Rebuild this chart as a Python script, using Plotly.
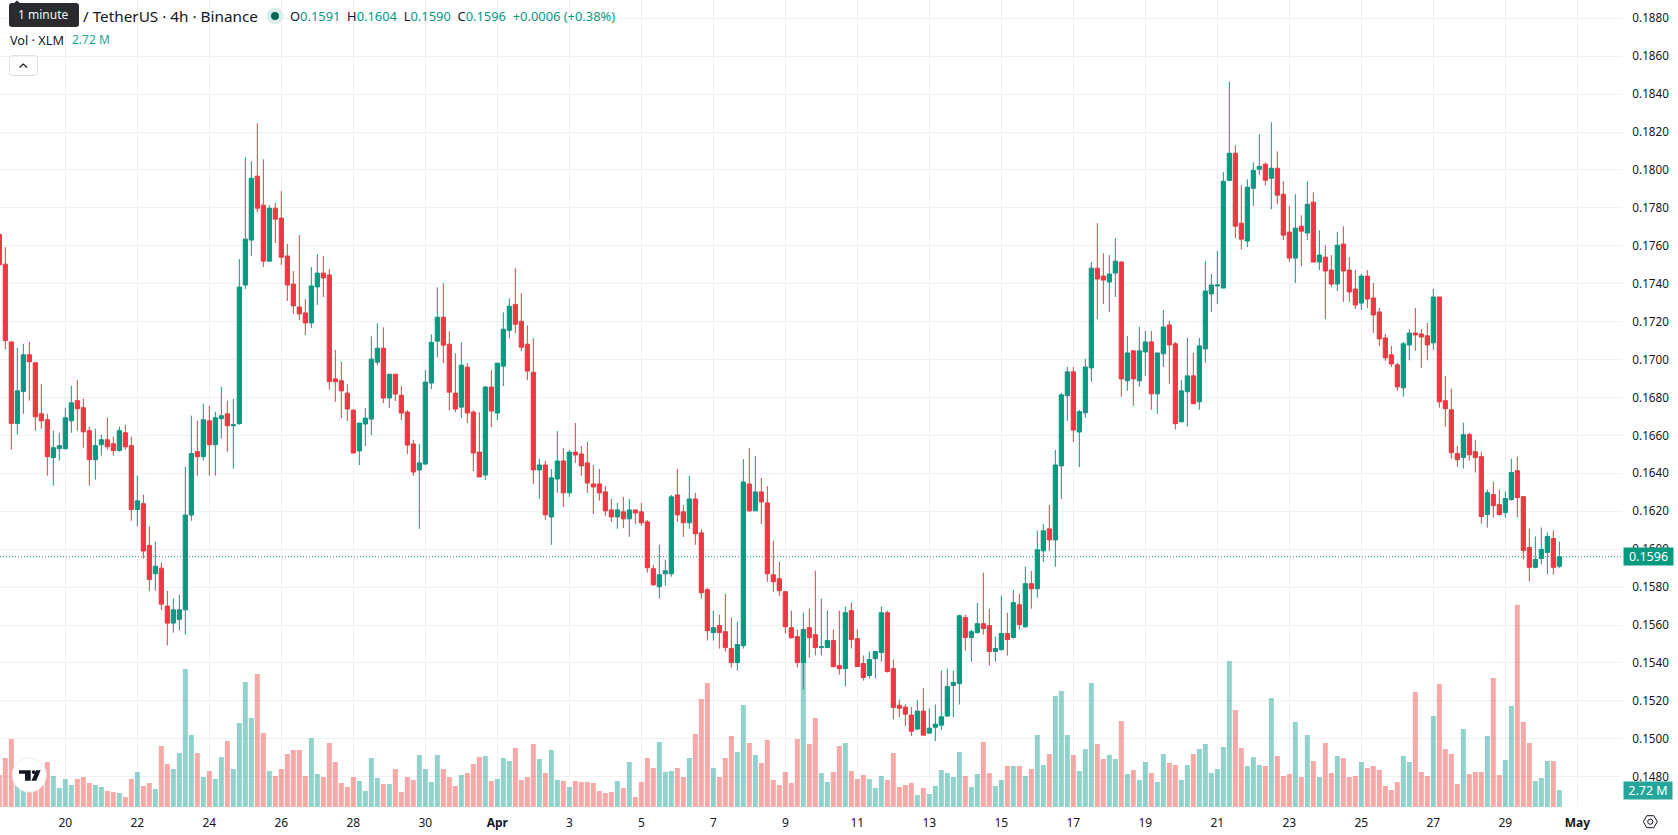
import pandas as pd
import plotly.graph_objects as go

# XLM / USDT, 4h candles, 18 Mar 04:00 to 30 Apr 12:00
first_candle = "2023-03-18 04:00"
candle_count = 261

opens = [
    .17660,.17503,.17093,.16663,.16832,.17025,.16983,.16714,.16683,.16483,
    .16530,.16530,.16677,.16783,.16746,.16625,.16472,.16551,.16577,.16556,
    .16520,.16614,.16546,.16209,.16240,.16020,.15870,.15900,.15700,.15610,
    .15630,.15680,.16180,.16514,.16488,.16677,.16551,.16688,.16714,.16651,
    .16662,.17393,.17630,.17967,.17814,.17519,.17798,.17746,.17546,.17398,
    .17277,.17246,.17193,.17383,.17456,.17446,.16898,.16888,.16823,.16733,
    .16518,.16660,.16686,.16986,.17060,.16797,.16923,.16812,.16723,.16555,
    .16418,.16449,.16876,.17097,.17223,.17081,.16823,.16749,.16960,.16723,
    .16512,.16391,.16855,.16718,.16965,.17154,.17291,.17202,.17081,.16933,
    .16418,.16444,.16170,.16370,.16465,.16297,.16512,.16502,.16455,.16344,
    .16344,.16302,.16207,.16170,.16197,.16160,.16207,.16197,.16144,.15897,
    .15802,.15870,.15870,.16286,.16197,.16139,.16265,.16086,.15786,.15560,
    .15597,.15565,.15476,.15402,.15491,.16344,.16202,.16302,.16244,.15865,
    .15844,.15776,.15586,.15539,.15402,.15586,.15549,.15481,.15481,.15518,
    .15386,.15370,.15676,.15528,.15397,.15333,.15423,.15455,.15665,.15370,
    .15177,.15167,.15125,.15051,.15146,.15030,.15061,.15072,.15120,.15281,
    .15291,.15639,.15534,.15560,.15607,.15597,.15460,.15470,.15555,.15534,
    .15707,.15591,.15818,.15791,.15991,.16107,.16049,.16439,.16809,.16935,
    .16618,.16719,.16956,.17482,.17440,.17409,.17456,.17514,.16888,.17046,
    .16888,.17040,.17093,.16819,.17030,.17182,.17083,.16672,.16830,.16914,
    .16777,.17056,.17346,.17388,.17377,.17945,.18088,.17719,.17625,.17903,
    .18003,.18030,.17956,.18009,.17872,.17672,.17535,.17703,.17667,.17830,
    .17514,.17540,.17472,.17398,.17609,.17472,.17372,.17298,.17440,.17325,
    .17251,.17114,.17025,.16972,.16851,.17077,.17140,.17135,.17125,.17088,
    .17330,.16783,.16735,.16504,.16483,.16604,.16514,.16488,.16183,.16288,
    .16235,.16193,.16262,.16414,.16277,.16009,.15904,.15951,.15983,.16056,
    .1591,
]
highs = [
    .17660,.17593,.17093,.17061,.17083,.17093,.16983,.16872,.16714,.16625,
    .16614,.16746,.16862,.16893,.16793,.16646,.16635,.16604,.16693,.16593,
    .16646,.16656,.16593,.16388,.16288,.16120,.16040,.15930,.15780,.15740,
    .15760,.16435,.16704,.16677,.16767,.16756,.16725,.16856,.16783,.16793,
    .17530,.18067,.18046,.18246,.18056,.17814,.17825,.17888,.17609,.17467,
    .17656,.17319,.17488,.17556,.17546,.17477,.17051,.16988,.16870,.16740,
    .16665,.16744,.17123,.17191,.17170,.16923,.16923,.16860,.16733,.16576,
    .16555,.16944,.17133,.17381,.17402,.17149,.17033,.17091,.16981,.16733,
    .16723,.16860,.16944,.16981,.17249,.17323,.17481,.17349,.17181,.17112,
    .16476,.16465,.16423,.16623,.16533,.16523,.16665,.16544,.16565,.16444,
    .16423,.16333,.16265,.16244,.16276,.16265,.16207,.16244,.16154,.15918,
    .16023,.15944,.16286,.16423,.16233,.16386,.16297,.16107,.15797,.15676,
    .15655,.15765,.15639,.15618,.16475,.16533,.16491,.16375,.16333,.16044,
    .15933,.15776,.15676,.15576,.15665,.15686,.15886,.15739,.15676,.15576,
    .15676,.15697,.15718,.15576,.15439,.15460,.15460,.15697,.15676,.15418,
    .15207,.15182,.15167,.15204,.15267,.15160,.15181,.15360,.15370,.15360,
    .15655,.15655,.15576,.15718,.15876,.15686,.15539,.15755,.15665,.15786,
    .15765,.15907,.15886,.16097,.16133,.16233,.16523,.16825,.16961,.16961,
    .16735,.17004,.17514,.17719,.17561,.17551,.17640,.17519,.17125,.17051,
    .17172,.17151,.17151,.17035,.17261,.17204,.17093,.16893,.17114,.17035,
    .17114,.17519,.17451,.17572,.17988,.18466,.18130,.17919,.17951,.18040,
    .18188,.18040,.18251,.18098,.17940,.17809,.17872,.17761,.17940,.17882,
    .17682,.17603,.17551,.17672,.17703,.17540,.17472,.17451,.17472,.17404,
    .17272,.17135,.17072,.16983,.17093,.17161,.17272,.17161,.17193,.17372,
    .17330,.16914,.16846,.16546,.16667,.16614,.16577,.16514,.16314,.16356,
    .16314,.16304,.16477,.16488,.16277,.16109,.16067,.16114,.16088,.16099,
    .1604,
]
lows = [
    .17500,.17053,.16526,.16604,.16714,.16783,.16625,.16635,.16388,.16335,
    .16467,.16525,.16614,.16625,.16535,.16335,.16367,.16493,.16525,.16493,
    .16514,.16525,.16150,.16120,.15950,.15780,.15780,.15680,.15492,.15560,
    .15570,.15550,.16150,.16388,.16467,.16388,.16388,.16583,.16514,.16425,
    .16656,.17372,.17546,.17777,.17488,.17519,.17614,.17498,.17309,.17241,
    .17209,.17130,.17167,.17288,.17330,.16841,.16777,.16691,.16676,.16507,
    .16444,.16544,.16602,.16970,.16770,.16744,.16781,.16681,.16502,.16386,
    .16107,.16444,.16844,.17012,.16981,.16733,.16723,.16691,.16665,.16412,
    .16381,.16365,.16644,.16681,.16860,.17112,.17139,.17044,.16891,.16344,
    .16265,.16155,.16023,.16297,.16223,.16276,.16455,.16386,.16297,.16186,
    .16255,.16176,.16144,.16107,.16112,.16065,.16133,.16123,.15876,.15807,
    .15739,.15807,.15855,.16144,.16065,.16107,.16023,.15739,.15518,.15518,
    .15476,.15460,.15376,.15360,.15476,.16197,.16202,.16133,.15828,.15776,
    .15754,.15555,.15528,.15376,.15260,.15428,.15439,.15439,.15481,.15376,
    .15339,.15276,.15476,.15381,.15307,.15318,.15318,.15407,.15349,.15102,
    .15114,.15067,.15014,.15046,.15019,.15025,.14988,.15046,.15114,.15114,
    .15181,.15465,.15407,.15555,.15549,.15386,.15407,.15465,.15439,.15528,
    .15576,.15586,.15686,.15744,.15933,.15991,.15907,.16265,.16677,.16565,
    .16433,.16693,.16883,.17214,.17293,.17251,.17330,.16804,.16835,.16756,
    .16856,.16914,.16735,.16714,.16961,.16872,.16630,.16667,.16646,.16767,
    .16735,.16983,.17251,.17293,.17377,.17940,.17640,.17582,.17593,.17809,
    .17972,.17919,.17793,.17819,.17630,.17514,.17404,.17493,.17630,.17514,
    .17472,.17214,.17382,.17361,.17304,.17304,.17267,.17261,.17272,.17140,
    .17072,.16993,.16961,.16835,.16804,.16996,.17046,.16956,.16996,.17051,
    .16746,.16646,.16477,.16435,.16425,.16467,.16404,.16135,.16114,.16167,
    .16177,.16167,.16256,.16167,.15946,.15830,.15899,.15920,.15867,.15867,
    .1590,
]
closes = [
    .17500,.17100,.16663,.16835,.17025,.16988,.16698,.16677,.16488,.16535,
    .16546,.16693,.16772,.16741,.16619,.16472,.16546,.16577,.16540,.16520,
    .16625,.16540,.16209,.16255,.15990,.15840,.15910,.15710,.15610,.15680,
    .15680,.16180,.16504,.16488,.16683,.16551,.16693,.16704,.16651,.16656,
    .17382,.17635,.17956,.17798,.17519,.17798,.17740,.17540,.17393,.17283,
    .17241,.17193,.17388,.17456,.17430,.16883,.16883,.16835,.16739,.16507,
    .16665,.16691,.17002,.17060,.16797,.16923,.16818,.16718,.16549,.16407,
    .16455,.16881,.17091,.17223,.17076,.16828,.16739,.16970,.16718,.16507,
    .16381,.16855,.16728,.16981,.17160,.17281,.17186,.17065,.16939,.16418,
    .16444,.16181,.16376,.16465,.16297,.16512,.16497,.16439,.16349,.16328,
    .16297,.16202,.16170,.16207,.16160,.16207,.16191,.16139,.15902,.15812,
    .15865,.15886,.16276,.16181,.16139,.16265,.16081,.15770,.15570,.15586,
    .15560,.15481,.15402,.15497,.16354,.16202,.16302,.16249,.15870,.15828,
    .15781,.15591,.15533,.15402,.15576,.15533,.15481,.15486,.15518,.15381,
    .15370,.15665,.15523,.15381,.15323,.15418,.15460,.15665,.15355,.15165,
    .15161,.15130,.15040,.15146,.15019,.15056,.15077,.15116,.15276,.15297,
    .15649,.15534,.15565,.15607,.15581,.15460,.15476,.15555,.15523,.15718,
    .15602,.15818,.15791,.15997,.16097,.16049,.16444,.16814,.16935,.16628,
    .16725,.16961,.17482,.17425,.17419,.17451,.17519,.16898,.17035,.16898,
    .17046,.17093,.16819,.17035,.17172,.17077,.16662,.16835,.16914,.16767,
    .17072,.17361,.17393,.17393,.17940,.18088,.17703,.17635,.17909,.17998,
    .18019,.17946,.18009,.17867,.17656,.17535,.17693,.17677,.17819,.17514,
    .17551,.17467,.17398,.17603,.17467,.17356,.17288,.17440,.17319,.17235,
    .17109,.17009,.16977,.16856,.17083,.17140,.17130,.17119,.17077,.17330,
    .16777,.16741,.16509,.16472,.16604,.16498,.16483,.16172,.16298,.16230,
    .16183,.16267,.16404,.16272,.15993,.15904,.15946,.15999,.16067,.15904,
    .1596,
]
# Volume in millions of XLM
volumes = [
    5.12,7.84,10.88,3.52,2.72,2.40,3.20,5.12,7.20,4.96,
    3.04,4.48,3.52,4.48,4.80,3.84,3.52,3.20,2.56,2.40,
    2.24,1.60,4.48,5.60,3.36,3.84,2.88,9.76,6.88,6.08,
    8.64,22.08,11.52,8.64,4.80,5.76,4.48,8.00,10.56,6.08,
    13.44,20.00,14.24,21.28,11.84,5.76,4.96,6.08,8.48,9.12,
    9.12,4.96,11.04,5.28,4.80,10.24,7.20,3.84,3.20,4.80,
    4.16,2.56,7.84,4.64,3.68,3.68,6.08,2.40,4.80,4.32,
    8.32,6.08,4.00,8.32,6.08,4.80,3.36,5.12,5.44,6.88,
    8.00,8.16,4.16,4.48,7.84,7.36,9.44,4.32,4.80,10.08,
    7.68,5.44,9.12,4.32,4.16,3.20,4.16,4.00,4.00,3.84,
    2.56,2.24,2.40,4.16,3.04,7.20,1.60,4.00,7.84,6.24,
    10.40,5.60,5.76,6.24,4.80,7.84,11.68,17.28,19.84,6.24,
    4.80,7.84,11.36,8.80,16.32,10.24,8.32,7.04,10.72,4.32,
    3.52,5.60,3.84,10.88,24.32,10.08,14.24,5.44,4.00,5.60,
    9.76,10.24,5.76,4.48,5.12,4.48,3.04,4.96,4.32,8.64,
    3.20,3.52,3.84,1.92,3.04,2.08,3.36,5.92,5.44,4.80,
    8.80,4.96,3.20,5.28,10.40,5.44,3.36,4.32,6.56,6.56,
    6.56,4.96,6.08,11.52,6.72,8.48,17.76,18.56,11.52,8.32,
    5.76,9.28,19.84,10.08,7.68,8.32,7.68,13.76,5.28,5.92,
    4.32,7.20,5.44,4.00,8.48,7.04,6.72,4.32,6.72,8.48,
    9.28,10.08,5.44,6.08,9.60,23.36,15.52,9.44,6.56,8.00,
    6.72,6.56,17.44,8.16,4.96,5.28,13.60,4.80,11.52,7.36,
    4.80,10.24,5.44,8.16,7.84,4.80,4.96,7.20,6.24,6.56,
    5.92,3.36,2.72,4.00,8.16,7.20,18.40,5.60,4.96,14.56,
    19.68,9.28,8.48,3.68,12.48,5.28,5.60,5.60,11.36,20.64,
    5.12,7.52,16.16,32.37,13.60,10.24,4.16,4.64,7.36,7.36,
    2.72,
]
assert all(len(a) == candle_count for a in (opens, highs, lows, closes, volumes))

tick_dates = ["03-20","03-22","03-24","03-26","03-28","03-30","04-01","04-03","04-05","04-07","04-09",
              "04-11","04-13","04-15","04-17","04-19","04-21","04-23","04-25","04-27","04-29","05-01"]
tick_labels = ["20","22","24","26","28","30","<b>Apr</b>","3","5","7","9",
               "11","13","15","17","19","21","23","25","27","29","<b>May</b>"]
price_ticks = [0.148 + 0.002 * k for k in range(21)]
last_price = 0.1596
last_volume = 2.72

GREEN = "#089981"
RED = "#f23645"
GREEN_VOL = "rgba(38,166,154,0.5)"
RED_VOL = "rgba(239,83,80,0.5)"
INK = "#131722"
GRID = "#f0f1f4"
FONT = "Noto Sans"

W, H = 1678, 835
PLOT_R, PLOT_B = 1622, 807


def fx(x):
    return x / PLOT_R


def fy(y):
    return 1 - y / PLOT_B


def path_from(points, close=True):
    body = " L ".join(f"{fx(x):.5f},{fy(y):.5f}" for x, y in points)
    return "M " + body + (" Z" if close else "")


def rounded_rect(x0, y0, x1, y1, r):
    """Rounded rectangle in pixel terms, as an SVG path in paper fractions."""
    rx, ry = r / PLOT_R, r / PLOT_B
    a, b, c, d = fx(x0), fx(x1), fy(y0), fy(y1)
    return (f"M {a+rx:.5f},{c:.5f} L {b-rx:.5f},{c:.5f} Q {b:.5f},{c:.5f} {b:.5f},{c-ry:.5f} "
            f"L {b:.5f},{d+ry:.5f} Q {b:.5f},{d:.5f} {b-rx:.5f},{d:.5f} "
            f"L {a+rx:.5f},{d:.5f} Q {a:.5f},{d:.5f} {a:.5f},{d+ry:.5f} "
            f"L {a:.5f},{c-ry:.5f} Q {a:.5f},{c:.5f} {a+rx:.5f},{c:.5f} Z")


def circle(cx, cy, r, **kw):
    return dict(type="circle", xref="paper", yref="paper", x0=fx(cx - r), x1=fx(cx + r),
                y0=fy(cy + r), y1=fy(cy - r), **kw)


def polygon(points, fill, line=None, width=0, close=True):
    return dict(type="path", xref="paper", yref="paper", path=path_from(points, close),
                fillcolor=fill, line=dict(color=line or fill, width=width))


def label(x, y, text, size=13, color=INK, anchor="left", **kw):
    return dict(xref="paper", yref="paper", x=fx(x), y=fy(y), text=text, showarrow=False,
                xanchor=anchor, yanchor="middle", align="left",
                font=dict(family=FONT, size=size, color=color), **kw)


times = pd.date_range(first_candle, periods=candle_count, freq="4h")
ticks = [pd.Timestamp(f"2023-{d}") for d in tick_dates]
px_per_day = 36
anchor_day = ticks[0]
anchor_px = 65.33
x_range = [anchor_day - pd.Timedelta(days=anchor_px / px_per_day),
           anchor_day + pd.Timedelta(days=(PLOT_R - anchor_px) / px_per_day)]
# 18962 pixels per unit of price, with 0.1740 sitting 283.7 px from the top
price_range = [0.174 - (PLOT_B - 283.7) / 18962, 0.174 + 283.7 / 18962]
volume_range = [0, PLOT_B * 0.16]

bar_colors = [GREEN_VOL if c >= o else RED_VOL for o, c in zip(opens, closes)]

fig = go.Figure()
fig.add_trace(go.Bar(x=times, y=volumes, marker=dict(color=bar_colors, line=dict(width=0)),
                     yaxis="y", hoverinfo="skip", showlegend=False))
fig.add_trace(go.Candlestick(
    x=times, open=opens, high=highs, low=lows, close=closes, yaxis="y2",
    increasing=dict(line=dict(color=GREEN, width=1), fillcolor=GREEN),
    decreasing=dict(line=dict(color=RED, width=1), fillcolor=RED),
    whiskerwidth=0, showlegend=False, hoverinfo="skip",
))

shapes = [
    # last-price dotted guide
    dict(type="line", xref="paper", yref="y2", x0=0, x1=1, y0=last_price, y1=last_price,
         line=dict(color=GREEN, width=1, dash="1px,2px"), layer="below"),
    # status dot in the header
    circle(275, 16, 8.5, fillcolor="#d9eeea", line=dict(width=0)),
    circle(275, 16, 4, fillcolor="#056656", line=dict(width=0)),
    # interval tooltip
    dict(type="path", xref="paper", yref="paper", path=rounded_rect(9, 3, 79, 27, 3),
         fillcolor="#2a2b2e", line=dict(width=0)),
    polygon([(13, 4), (17, 0.5), (21, 4)], "#2a2b2e"),
    # collapse button
    dict(type="path", xref="paper", yref="paper", path=rounded_rect(9.5, 55.5, 37.5, 75.5, 3),
         fillcolor="rgba(255,255,255,0)", line=dict(color="#dcdfe6", width=1)),
    polygon([(19.5, 67.5), (23.3, 64), (27, 67.5)], "rgba(0,0,0,0)", line=INK, width=1.2, close=False),
    # badge in the lower-left corner
    circle(29.3, 775, 17, fillcolor="white", line=dict(color="#eceef2", width=1)),
    polygon([(19, 770.3), (30.7, 770.3), (30.7, 780.7), (25, 780.7), (25, 773.8), (19, 773.8)], "#131722"),
    polygon([(36, 770.3), (40.7, 770.3), (36.2, 780.7), (31.5, 780.7)], "#131722"),
    circle(33.6, 772.1, 1.9, fillcolor="#131722", line=dict(width=0)),
    # settings icon under the price scale
    polygon([(1643.3, 821.7), (1646.8, 815.7), (1653.8, 815.7), (1657.3, 821.7),
             (1653.8, 827.7), (1646.8, 827.7)], "rgba(0,0,0,0)", line=INK, width=1),
    circle(1650.3, 821.7, 2.6, fillcolor="rgba(0,0,0,0)", line=dict(color=INK, width=1)),
]


def tinted(v):
    return f"<span style='color:{GREEN}'>{v}</span>"


annotations = [
    label(13, 15, "1 minute", size=12, color="#f0f3fa", xshift=3),
    label(81, 16, "/ TetherUS · 4h · Binance", size=15.3),
    label(288, 16, "O" + tinted("0.1591") + "  H" + tinted("0.1604") + "  L" + tinted("0.1590")
          + "  C" + tinted("0.1596") + "  " + tinted("+0.0006 (+0.38%)"), size=12.9),
    label(8, 40, "Vol · XLM", size=12.7),
    label(70, 40, "2.72 M", size=12, color="#26a69a"),
    dict(xref="paper", yref="y2", x=1, y=last_price, text="0.1596", showarrow=False, xanchor="left",
         yanchor="middle", xshift=1, width=49, height=17, bgcolor=GREEN, borderpad=0,
         font=dict(family=FONT, size=12.5, color="white")),
    dict(xref="paper", yref="y", x=1, y=last_volume, text="2.72 M", showarrow=False, xanchor="left",
         yanchor="middle", xshift=1, width=48, height=17, bgcolor="#26a69a", borderpad=0,
         font=dict(family=FONT, size=12.5, color="white")),
]

fig.update_layout(
    width=W, height=H, autosize=False,
    margin=dict(l=0, r=W - PLOT_R, t=0, b=H - PLOT_B, pad=0),
    paper_bgcolor="white", plot_bgcolor="white",
    font=dict(family=FONT, size=12, color=INK),
    bargap=0.17, boxgap=0.3, boxgroupgap=0, showlegend=False, hovermode=False,
    shapes=shapes, annotations=annotations,
    xaxis=dict(type="date", range=x_range, tickmode="array", tickvals=ticks, ticktext=tick_labels,
               tickangle=0, showgrid=True, gridcolor=GRID, gridwidth=1, zeroline=False, showline=False,
               ticks="outside", ticklen=5, tickcolor="rgba(0,0,0,0)",
               rangeslider=dict(visible=False), tickfont=dict(family=FONT, size=12, color=INK)),
    yaxis=dict(range=volume_range, visible=False, fixedrange=True, showgrid=False, zeroline=False),
    yaxis2=dict(range=price_range, overlaying="y", side="right", tickmode="array", tickvals=price_ticks,
                tickformat=".4f", showgrid=True, gridcolor=GRID, gridwidth=1, zeroline=False,
                showline=False, ticks="outside", ticklen=7, tickcolor="rgba(0,0,0,0)",
                tickfont=dict(family=FONT, size=11.7, color=INK)),
)

fig.write_html("out.html")
